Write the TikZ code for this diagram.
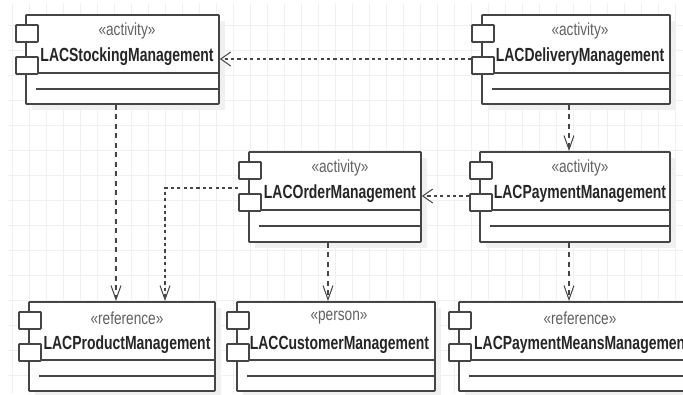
\documentclass[tikz,border=0pt]{standalone}
\usepackage{fontspec}
\setmainfont{Liberation Sans}
\newfontfamily\titlefont[FakeStretch=0.735]{Liberation Sans Bold}
\newfontfamily\stereofont[FakeStretch=0.78]{Liberation Sans}
\usetikzlibrary{arrows.meta,calc}
\definecolor{ink}{HTML}{454545}
\definecolor{gridc}{HTML}{F0F0F0}
\definecolor{shade}{HTML}{F0F0F0}
\tikzset{
  x=1pt,y=-1pt,
  outline/.style={draw=ink,line width=1.9pt,fill=white,rounded corners=0.8pt},
  sep/.style={draw=ink,line width=1.9pt},
  shadowbox/.style={fill=shade,draw=none},
  stereo/.style={text=ink!85,font=\fontsize{17.5}{17.5}\stereofont,inner sep=0pt},
  titletext/.style={text=black!85,font=\fontsize{19}{19}\titlefont,inner sep=0pt},
  dep/.style={draw=ink,line width=1.9pt,dash pattern=on 3.2pt off 3.2pt,-{Straight Barb[length=10pt,width=14pt,line width=1pt]}},
  depv/.style={dep,dash pattern=on 5pt off 4.5pt,-{Straight Barb[length=14pt,width=10pt,line width=1pt]}},
}
% #1 name, #2 left, #3 top, #4 right, #5 bottom, #6 stereotype centre, #7 stereotype
\newcommand{\umlbox}[7]{%
  \fill[shadowbox] (#2+7,#3+7) rectangle (#4+7,#5+7);
  \node[outline,inner sep=0pt,minimum width=#4pt-#2pt,minimum height=#5pt-#3pt,anchor=north west] (#1) at (#2,#3) {};
  \draw[sep] (#2+11,#3+59) -- (#4,#3+59);
  \draw[sep] (#2+11,#3+75) -- (#4,#3+75);
  \node[outline,inner sep=0pt,minimum width=22pt,minimum height=17pt,anchor=north west] (#1a) at (#2-10,#3+10) {};
  \node[outline,inner sep=0pt,minimum width=22pt,minimum height=17pt,anchor=north west] (#1b) at (#2-10,#3+42) {};
  \node[stereo,anchor=center] (#1s) at (#6,#3+17) {#7};
}
\begin{document}
\begin{tikzpicture}
\useasboundingbox (0,0) rectangle (683,394);
\clip (0,0) rectangle (683,394);
\fill[white] (0,0) rectangle (683,394);
\foreach \gx in {12,29,...,683} \draw[gridc,line width=0.8pt] (\gx,3) -- (\gx,394);
\foreach \gy in {25,50,...,390} \draw[gridc,line width=0.8pt] (8,\gy) -- (683,\gy);
\umlbox{stock}{25}{14}{218}{103}{127}{«activity»}
\umlbox{deliv}{481}{14}{669}{103}{580}{«activity»}
\umlbox{order}{248}{151}{420}{241}{340}{«activity»}
\umlbox{pay}{479}{151}{669}{241}{580}{«activity»}
\umlbox{prod}{28}{301}{214}{390}{127}{«reference»}
\umlbox{cust}{236}{301}{434}{390}{339}{«person»}
\umlbox{means}{458}{301}{700}{390}{580}{«reference»}
\node[titletext,anchor=base] (stockt) at (127,61) {LACStockingManagement};
\node[titletext,anchor=base] (delivt) at (580,61) {LACDeliveryManagement};
\node[titletext,anchor=base] (ordert) at (340,198) {LACOrderManagement};
\node[titletext,anchor=base] (payt) at (580,198) {LACPaymentManagement};
\node[titletext,anchor=base] (prodt) at (127,349) {LACProductManagement};
\node[titletext,anchor=base] (custt) at (339.5,349) {LACCustomerManagement};
\node[titletext,anchor=base west] (meanst) at (474,349) {LACPaymentMeansManagement};
\coordinate (xa) at (116,0);
\coordinate (xb) at (165,0);
\coordinate (xc) at (328,0);
\coordinate (xd) at (569,0);
\coordinate (ya) at (0,59);
\coordinate (yb) at (0,196);
\coordinate (yc) at (0,188);
\draw[dep] (delivb.west |- ya) -- (stock.east |- ya);
\draw[dep] (payb.west |- yb) -- (order.east |- yb);
\draw[depv,dash pattern=on 3.2pt off 3.2pt] (orderb.west |- yc) -- (xb |- yc) -- (prod.north -| xb);
\draw[depv] (stock.south -| xa) -- (prod.north -| xa);
\draw[depv] (order.south -| xc) -- (cust.north -| xc);
\draw[depv] (deliv.south -| xd) -- (pay.north -| xd);
\draw[depv] (pay.south -| xd) -- (means.north -| xd);
\end{tikzpicture}
\end{document}
